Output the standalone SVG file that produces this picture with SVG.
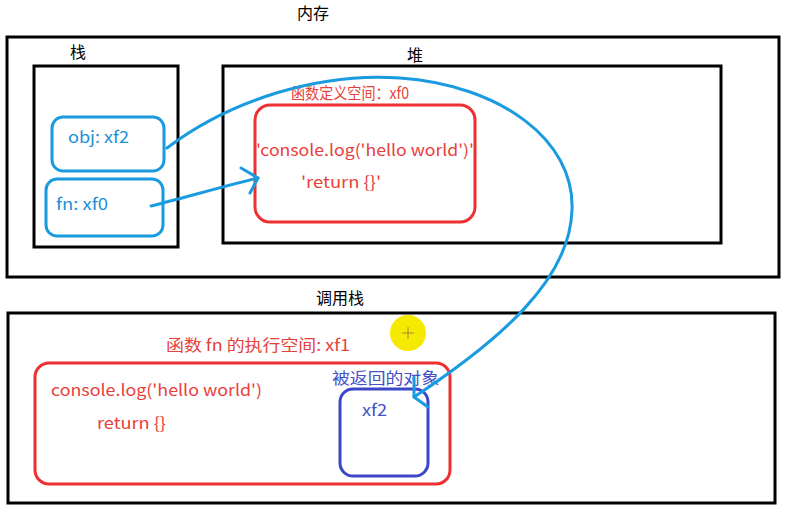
<svg xmlns="http://www.w3.org/2000/svg" width="785" height="514" viewBox="0 0 785 514">
<style>
.blk{fill:none;stroke:#000;stroke-width:3}
.red{fill:none;stroke:#ee3030;stroke-width:3}
.blu{fill:none;stroke:#1a9be0;stroke-width:3}
.ind{fill:none;stroke:#3c46c8;stroke-width:3}
.con{fill:none;stroke:#1a9be0;stroke-width:3;stroke-linecap:round;stroke-linejoin:round}
text{font-family:"Noto Sans CJK SC","Noto Sans",sans-serif;font-size:16px}
.tb{fill:#000}
.tr{fill:#e8403a}
.tl{fill:#1a8fd6}
.ti{fill:#4450c8}
</style>
<rect width="785" height="514" fill="#fff"/>
<g id="memory">
<rect class="blk" x="7" y="37" width="772" height="240"/>
<text class="tb" x="313" y="19" text-anchor="middle">内存</text>
</g>
<g id="stack">
<rect class="blk" x="34" y="66" width="144" height="181"/>
<text class="tb" x="78" y="58" text-anchor="middle">栈</text>
</g>
<g id="obj">
<rect class="blu" x="52" y="117" width="112" height="54" rx="11"/>
<text class="tl" x="68" y="143" font-size="17" textLength="61" lengthAdjust="spacingAndGlyphs">obj: xf2</text>
</g>
<g id="fn">
<rect class="blu" x="46" y="179" width="117" height="57" rx="11"/>
<text class="tl" x="56" y="210" font-size="17" textLength="52" lengthAdjust="spacingAndGlyphs">fn: xf0</text>
</g>
<g id="heap">
<rect class="blk" x="223" y="66" width="498" height="177"/>
<text class="tb" x="415" y="61" text-anchor="middle">堆</text>
</g>
<g id="fn-def">
<rect class="red" x="255" y="105" width="220" height="117" rx="15"/>
<text class="tr" x="291" y="99" font-size="17" textLength="118" lengthAdjust="spacingAndGlyphs">函数定义空间：xf0</text>
<text class="tr" x="256" y="156" font-size="17" textLength="218" lengthAdjust="spacingAndGlyphs">'console.log('hello world')'</text>
<text class="tr" x="301" y="188" font-size="17" textLength="80" lengthAdjust="spacingAndGlyphs">'return {}'</text>
</g>
<g id="call-stack">
<rect class="blk" x="8" y="313" width="767" height="190"/>
<text class="tb" x="340" y="304" text-anchor="middle">调用栈</text>
</g>
<g id="fn-exec">
<rect class="red" x="35" y="363" width="415" height="121" rx="14"/>
<text class="tr" x="166" y="351" textLength="184" lengthAdjust="spacingAndGlyphs">函数 fn 的执行空间: xf1</text>
<text class="tr" x="51" y="396" font-size="17" textLength="211" lengthAdjust="spacingAndGlyphs">console.log('hello world')</text>
<text class="tr" x="97" y="429" font-size="17" textLength="69" lengthAdjust="spacingAndGlyphs">return {}</text>
</g>
<g id="returned-obj">
<rect class="ind" x="340" y="389" width="88" height="87" rx="13"/>
<text class="ti" x="332" y="384" font-size="17" textLength="107" lengthAdjust="spacingAndGlyphs">被返回的对象</text>
<text class="ti" x="362" y="416" font-size="17" textLength="25" lengthAdjust="spacingAndGlyphs">xf2</text>
</g>
<g id="connectors">
<path class="con" d="M151,206 C190,196 225,186 258,178"/>
<path class="con" d="M241,168 L258,178 L250,193"/>
<path class="con" d="M167,148 C230,100 320,72 400,78 C500,85 575,140 572,210 C570,280 500,340 414,397"/>
<path class="con" d="M414,377 L414,397 L428,407"/>
</g>
<g id="cursor">
<circle cx="408" cy="333" r="18" fill="#f5ea00"/>
<path d="M408,327 V339 M402,333 H414" stroke="#8a7a50" stroke-width="0.8"/>
</g>
</svg>
